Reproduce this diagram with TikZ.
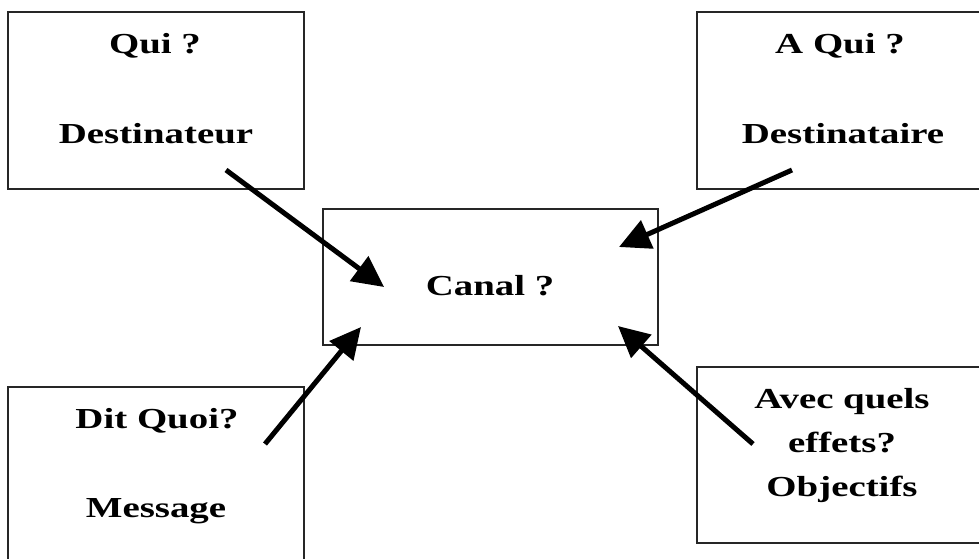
\documentclass[tikz,border=0pt]{standalone}
\usepackage{fontspec}
\newfontfamily\lblfont{Liberation Serif}[FakeStretch=1.34]
\usetikzlibrary{arrows.meta}
\tikzset{
  boxshape/.style={draw=black!85, line width=1.2pt, rectangle, inner sep=0pt},
  lbl/.style={anchor=base, inner sep=0pt, font=\lblfont\bfseries\fontsize{29}{35}\selectfont},
  bigarrow/.style={line width=5pt, -{Triangle[length=31pt,width=30pt]}}
}
\begin{document}
\begin{tikzpicture}[x=1pt,y=-1pt]
\clip (0,0) rectangle (979,558);
\fill[white] (0,0) rectangle (979,558);
% boxes
\node[boxshape, minimum width=296pt, minimum height=177pt] (qui) at (156,100.5) {};
\node[boxshape, minimum width=300pt, minimum height=177pt] (aqui) at (847,100.5) {};
\node[boxshape, minimum width=335pt, minimum height=136pt] (canal) at (490.5,277) {};
\node[boxshape, minimum width=296pt, minimum height=200pt] (dit) at (156,487) {};
\node[boxshape, minimum width=300pt, minimum height=176pt] (avec) at (847,455) {};
% texts
\node[lbl] (t1) at (155,53) {Qui ?};
\node[lbl] (t2) at (156,143) {Destinateur};
\node[lbl] (t3) at (840,53) {A Qui ?};
\node[lbl] (t4) at (843,143) {Destinataire};
\node[lbl] (t5) at (490,295) {Canal ?};
\node[lbl] (t6) at (157,428) {Dit Quoi?};
\node[lbl] (t7) at (156,517) {Message};
\node[lbl] (t8) at (842,408) {Avec quels};
\node[lbl] (t9) at (842,452) {effets?};
\node[lbl] (t10) at (842,496) {Objectifs};
% arrow endpoints
\coordinate (a1s) at (226,170); \coordinate (a1e) at (384,287);
\coordinate (a2s) at (792,170); \coordinate (a2e) at (619,247);
\coordinate (a3s) at (265,444); \coordinate (a3e) at (361,327);
\coordinate (a4s) at (753,444); \coordinate (a4e) at (618,326);
\draw[bigarrow] (a1s) -- (a1e);
\draw[bigarrow] (a2s) -- (a2e);
\draw[bigarrow] (a3s) -- (a3e);
\draw[bigarrow] (a4s) -- (a4e);
\end{tikzpicture}
\end{document}
